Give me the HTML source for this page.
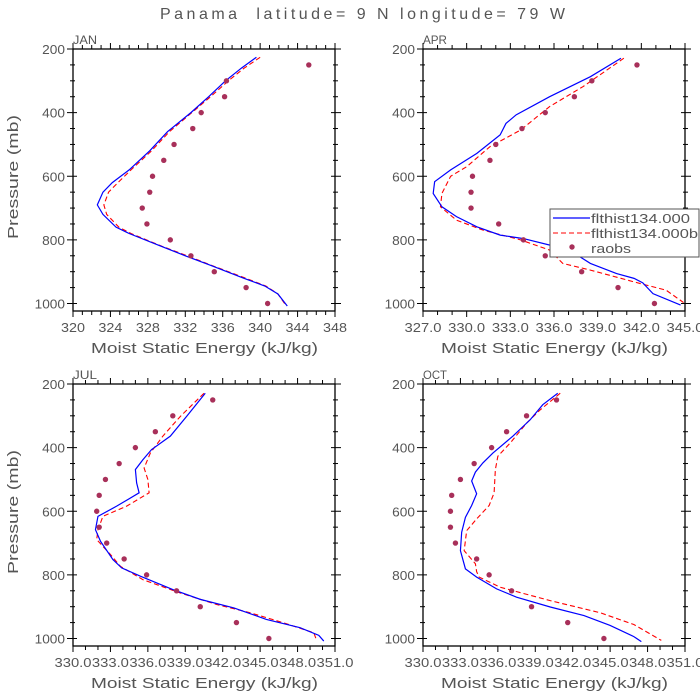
<!DOCTYPE html>
<html><head><meta charset="utf-8"><style>
html,body{margin:0;padding:0;background:#fff;}
svg{display:block;font-family:"Liberation Sans",sans-serif;}
</style></head><body>
<svg id="fig" width="700" height="700" viewBox="0 0 700 700">
<text x="160" y="19" font-size="16" fill="#555" textLength="405" lengthAdjust="spacing" xml:space="preserve">Panama  latitude= 9 N longitude= 79 W</text>
</svg>
<script>
// ---- data ----
const obsP = [250,300,350,400,450,500,550,600,650,700,750,800,850,900,950,1000];
const janObs = [345.2,336.4,336.2,333.7,332.8,330.8,329.7,328.5,328.2,327.4,327.9,330.4,332.6,335.1,338.5,340.8];
const janBlueP = [226,260,300,350,400,460,520,580,620,650,690,720,760,780,820,850,880,920,945,970,1008];
const janBlue = [339.6,338.0,336.3,334.5,332.6,330.1,328.2,326.0,324.2,323.2,322.6,323.2,324.6,326.0,329.4,332.0,334.7,338.2,340.5,341.9,342.9];
const janRedP = [226,260,300,350,400,460,520,580,620,650,690,720,760,780,820,850,880,920,945,970,1008];
const janRed = [340.0,338.3,336.6,334.7,332.7,330.3,328.4,326.2,324.8,323.8,323.3,323.6,324.9,326.2,329.5,332.2,334.8,338.4,340.6,341.9,342.8];

const aprObs = [341.7,338.6,337.4,335.4,333.8,332.0,331.6,330.4,330.3,330.3,332.2,333.9,335.4,337.9,340.4,342.9];
const aprBlueP = [229,287,350,407,434,470,528,580,617,654,696,727,759,785,796,822,848,874,906,921,935,969,1005];
const aprBlue = [340.6,338.5,335.7,333.4,332.7,332.3,330.7,328.9,327.8,327.7,328.3,329.3,330.7,332.3,333.9,336.2,337.6,338.5,340.3,341.5,342.1,342.8,344.7];
const aprRedP = [229,318,381,455,507,570,600,654,696,738,769,800,832,874,895,937,958,997];
const aprRed = [340.8,338.0,335.7,333.7,331.6,330.0,328.9,328.3,328.2,329.3,331.1,333.7,335.7,336.6,338.5,341.9,343.7,344.9];

const julObs = [341.2,338.0,336.6,335.0,333.7,332.6,332.1,331.9,332.1,332.7,334.1,335.9,338.3,340.2,343.1,345.7];
const julBlueP = [229,302,364,406,438,469,511,542,584,616,658,694,752,778,804,846,877,904,940,966,990,1008];
const julBlue = [340.6,339.1,337.8,336.3,335.6,335.0,335.1,335.3,333.5,332.0,331.8,332.2,333.2,333.9,335.4,338.0,340.2,342.9,345.5,348.2,349.7,350.1];
const julRedP = [229,302,364,417,464,500,542,584,616,658,689,736,773,815,857,893,919,951,982,1003];
const julRed = [340.5,338.6,337.2,336.2,335.7,336.0,336.1,334.3,332.4,332.0,331.9,333.0,333.8,335.6,338.6,341.5,344.2,346.9,349.3,349.5];

const octObs = [340.7,338.3,336.7,335.5,334.1,333.0,332.3,332.2,332.2,332.6,334.3,335.3,337.1,338.7,341.6,344.5];
const octBlueP = [229,265,312,364,417,448,477,505,545,582,619,666,724,781,807,844,870,901,928,959,994,1010];
const octBlue = [340.8,339.6,338.6,337.2,335.6,334.8,334.2,333.9,334.3,333.9,333.4,333.1,333.0,333.4,334.3,335.9,337.5,340.2,342.9,345.0,346.9,347.5];
const octRedP = [229,281,323,385,427,469,542,582,624,661,724,765,790,807,839,881,919,956,1006];
const octRed = [341.0,339.4,338.3,337.0,336.0,335.8,335.7,335.3,334.3,333.5,333.3,334.2,334.3,334.5,336.2,340.2,344.2,346.9,349.1];

const pTicks = [200,400,600,800,1000];
const janXTicks = ["320","324","328","332","336","340","344","348"];
const aprXTicks = ["327.0","330.0","333.0","336.0","339.0","342.0","345.0"];
const julXTicks = ["330.0","333.0","336.0","339.0","342.0","345.0","348.0","351.0"];

// ---- drawing ----
const NS = "http://www.w3.org/2000/svg";
const svg = document.getElementById("fig");
function el(tag, attrs, parent){ const e=document.createElementNS(NS,tag); for(const k in attrs) e.setAttribute(k,attrs[k]); (parent||svg).appendChild(e); return e; }
const W=262, H=262, PY1=254.5;
function panel(key, label, left, top, xmin, xmax, xTicks, xMinorStep, blueP, blue, redP, red, obs, showY, legend){
  const g = el("g",{});
  
  
  const xs = v => left + (v-xmin)/(xmax-xmin)*W;
  const ys = p => top + (p-200)/800*PY1;
  const fr = el("rect",{x:left,y:top,width:W,height:H,fill:"none",stroke:"#000","stroke-width":1.3},g);
  
  
  const ml = el("text",{x:left,y:top-5,"font-size":12,fill:"#555",textLength:label.length*8,lengthAdjust:"spacingAndGlyphs"},g);
  ml.textContent = label;
  
  
  for(let p=200;p<=1000;p+=50){
    const major = p%200===0; const y=ys(p);
    el("line",{x1:left-(major?6:3),x2:left+(major?4:2),y1:y,y2:y,stroke:"#000"},g);
    el("line",{x1:left+W-(major?4:2),x2:left+W+(major?6:3),y1:y,y2:y,stroke:"#000"},g);
  }
  pTicks.forEach(p=>{
    const s=String(p);
    const t=el("text",{x:left-8-s.length*7.6,y:ys(p)+5,"font-size":13,fill:"#555",textLength:s.length*7.6,lengthAdjust:"spacingAndGlyphs"},g);
    t.textContent=s;
    
    
  });
  const majStep = (xmax-xmin)/(xTicks.length-1);
  for(let v=xmin; v<=xmax+1e-6; v+=xMinorStep){
    const major = Math.abs((v-xmin)/majStep - Math.round((v-xmin)/majStep))<1e-6;
    const x=xs(v);
    el("line",{x1:x,x2:x,y1:top-(major?6:4),y2:top,stroke:"#000"},g);
    el("line",{x1:x,x2:x,y1:top+H,y2:top+H+(major?6:4),stroke:"#000"},g);
  }
  xTicks.forEach((lab,i)=>{
    const len = lab.length===3?24:37;
    const t=el("text",{x:xs(xmin+i*majStep)-len/2,y:top+H+21,"font-size":13,fill:"#555",textLength:len,lengthAdjust:"spacingAndGlyphs"},g);
    t.textContent=lab;
    
    
  });
  const xt=el("text",{x:left+W/2-113,y:top+H+42,"font-size":15,fill:"#555",textLength:227,lengthAdjust:"spacingAndGlyphs"},g);
  xt.textContent="Moist Static Energy (kJ/kg)";
  
  
  if(showY){
    const yt=el("text",{x:-62,y:0,"font-size":15,fill:"#555",textLength:124,lengthAdjust:"spacingAndGlyphs",transform:`translate(${left-55},${top+H/2-3}) rotate(-90)`},g);
    yt.textContent="Pressure (mb)";
    
    
  }
  const rl=el("polyline",{points:red.map((v,i)=>xs(v)+","+ys(redP[i])).join(" "),fill:"none",stroke:"#ff0000","stroke-width":1.1,"stroke-dasharray":"5,3"},g);
  
  
  const bl=el("polyline",{points:blue.map((v,i)=>xs(v)+","+ys(blueP[i])).join(" "),fill:"none",stroke:"#0000ff","stroke-width":1.2},g);
  
  
  obs.forEach((v,i)=>{
    const c=el("circle",{cx:xs(v),cy:ys(obsP[i]),r:2.7,fill:"#a8305a"},g);
    
    
  });
  if(legend){
    const lg=el("g",{},g);
    
    
    el("rect",{x:550,y:209,width:149,height:48,fill:"#fff",stroke:"#555","stroke-width":1},lg);
    const e1=el("line",{x1:553,x2:590,y1:218,y2:218,stroke:"#0000ff","stroke-width":1.2},lg);
    
    
    const t1=el("text",{x:591,y:223,"font-size":13,fill:"#555",textLength:99,lengthAdjust:"spacingAndGlyphs"},lg); t1.textContent="flthist134.000";
    
    
    el("line",{x1:553,x2:590,y1:233,y2:233,stroke:"#ff0000","stroke-width":1.1,"stroke-dasharray":"5,3"},lg);
    const t2=el("text",{x:591,y:238,"font-size":13,fill:"#555",textLength:107,lengthAdjust:"spacingAndGlyphs"},lg); t2.textContent="flthist134.000b";
    
    
    el("circle",{cx:572,cy:247,r:2.7,fill:"#a8305a"},lg);
    const t3=el("text",{x:591,y:253,"font-size":13,fill:"#555",textLength:40,lengthAdjust:"spacingAndGlyphs"},lg); t3.textContent="raobs";
    
    
  }
}
panel("jan","JAN",73,49,320,348,janXTicks,1,janBlueP,janBlue,janRedP,janRed,janObs,true,false);
panel("apr","APR",423,49,327,345,aprXTicks,1,aprBlueP,aprBlue,aprRedP,aprRed,aprObs,false,true);
panel("jul","JUL",73,384,330,351,julXTicks,1,julBlueP,julBlue,julRedP,julRed,julObs,true,false);
panel("oct","OCT",423,384,330,351,julXTicks,1,octBlueP,octBlue,octRedP,octRed,octObs,false,false);
</script>
</body></html>
